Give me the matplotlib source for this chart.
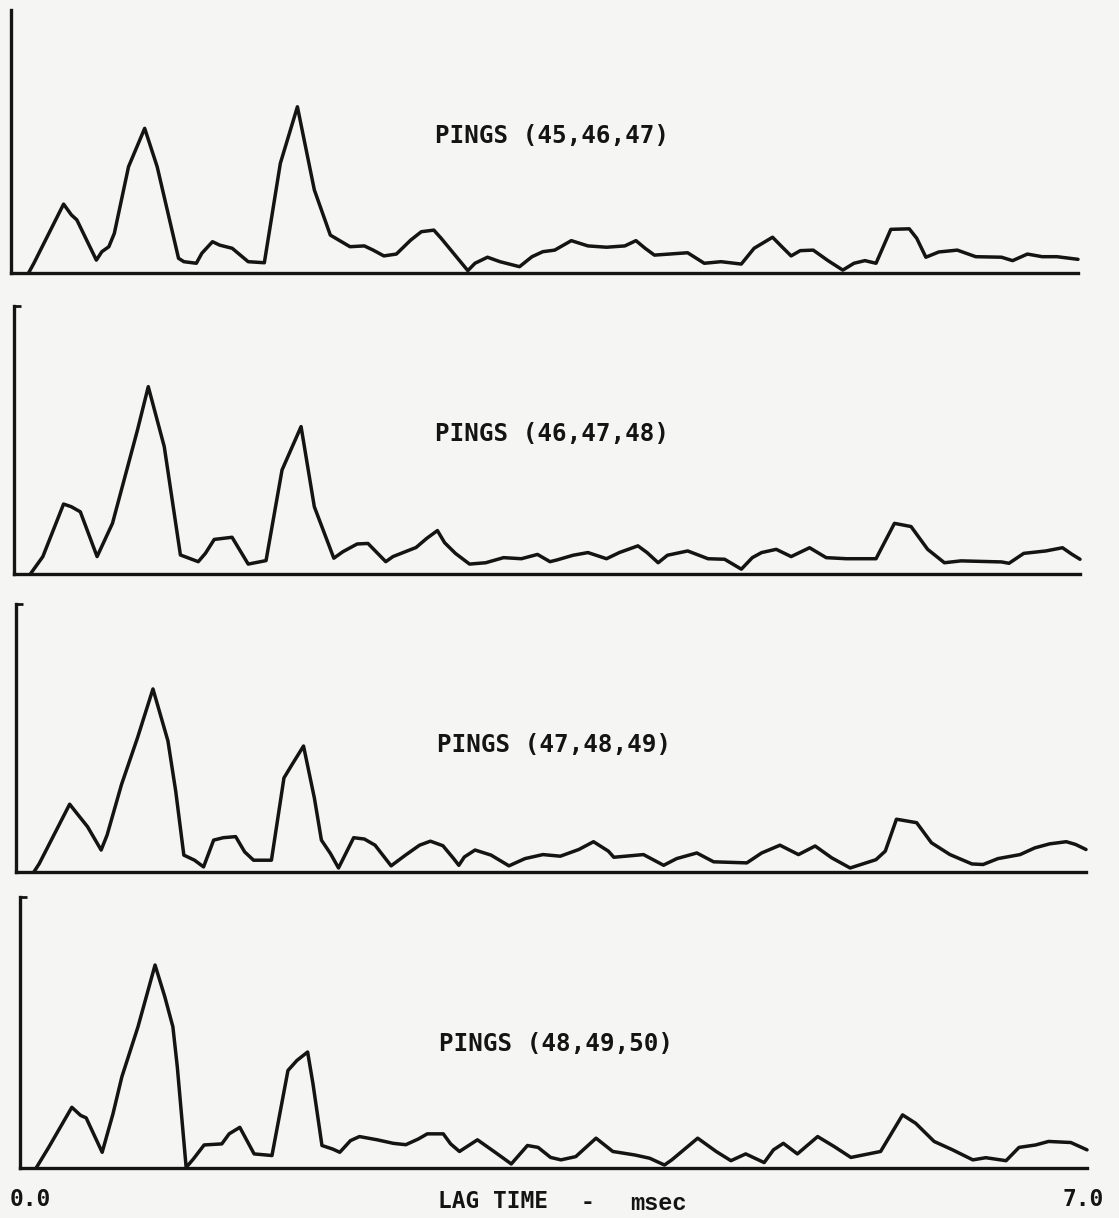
import matplotlib
matplotlib.use("Agg")
import matplotlib.pyplot as plt

# Lag time (msec) and correlation amplitude (axis top = 100) for each ping group
lag_45_47 = [0.115, 0.150, 0.345, 0.396, 0.432, 0.560, 0.596, 0.642, 0.678, 0.771,
             0.877, 0.959, 1.099, 1.134, 1.216, 1.252, 1.322, 1.369, 1.451, 1.556,
             1.662, 1.767, 1.879, 1.990, 2.095, 2.224, 2.318, 2.376, 2.446, 2.528,
             2.622, 2.692, 2.774, 2.822, 2.903, 2.997, 3.044, 3.126, 3.208, 3.336,
             3.418, 3.489, 3.567, 3.676, 3.785, 3.907, 4.027, 4.100, 4.160, 4.221,
             4.439, 4.548, 4.658, 4.791, 4.875, 4.996, 5.057, 5.118, 5.178, 5.263,
             5.360, 5.457, 5.530, 5.602, 5.675, 5.772, 5.893, 5.942, 6.002, 6.087,
             6.208, 6.329, 6.498, 6.571, 6.668, 6.765, 6.862, 7.000]
amp_45_47 = [0.0, 3.7, 26.2, 22.1, 20.2, 4.9, 8.1, 10.0, 15.1, 40.4,
             55.0, 40.4, 5.6, 4.3, 3.7, 7.5, 11.9, 10.6, 9.4, 4.3,
             3.9, 41.7, 63.2, 31.6, 14.4, 10.0, 10.3, 8.7, 6.5, 7.2,
             12.5, 15.7, 16.3, 13.2, 7.5, 0.9, 3.7, 6.0, 4.3, 2.4,
             6.2, 8.1, 8.7, 12.3, 10.3, 9.8, 10.3, 12.3, 9.4, 6.8,
             7.7, 3.7, 4.3, 3.4, 9.4, 13.6, 10.0, 6.5, 8.5, 8.7,
             4.7, 1.1, 3.7, 4.7, 3.7, 16.6, 16.8, 13.2, 6.0, 8.0,
             8.7, 6.2, 6.0, 4.7, 7.2, 6.2, 6.2, 5.2]

lag_46_48 = [0.110, 0.192, 0.328, 0.379, 0.438, 0.548, 0.649, 0.731, 0.813, 0.884,
             0.989, 1.095, 1.212, 1.259, 1.317, 1.434, 1.540, 1.657, 1.762, 1.887,
             1.974, 2.102, 2.161, 2.255, 2.326, 2.443, 2.490, 2.642, 2.712, 2.782,
             2.829, 2.900, 2.993, 3.099, 3.216, 3.333, 3.439, 3.521, 3.564, 3.673,
             3.770, 3.892, 3.976, 4.098, 4.158, 4.231, 4.292, 4.425, 4.558, 4.667,
             4.777, 4.849, 4.910, 5.006, 5.104, 5.225, 5.334, 5.467, 5.661, 5.782,
             5.891, 6.000, 6.110, 6.219, 6.485, 6.534, 6.631, 6.776, 6.885, 6.946,
             7.000]
amp_46_48 = [0.0, 6.5, 26.1, 25.1, 23.2, 6.5, 18.9, 36.3, 53.7, 69.9,
             47.5, 7.1, 4.6, 7.7, 12.9, 13.7, 3.7, 5.0, 38.8, 55.0,
             25.1, 5.9, 8.3, 11.2, 11.4, 4.6, 6.5, 9.9, 13.3, 16.2,
             11.7, 7.7, 3.7, 4.2, 6.1, 5.7, 7.3, 4.6, 5.2, 7.0,
             8.0, 5.7, 8.0, 10.5, 8.0, 4.2, 7.0, 8.6, 5.7, 5.5,
             1.8, 6.1, 8.0, 9.2, 6.5, 9.8, 6.1, 5.7, 5.7, 18.9,
             17.7, 9.2, 4.2, 4.9, 4.5, 4.0, 7.7, 8.6, 9.8, 7.4,
             5.5]

lag_47_49 = [0.117, 0.152, 0.351, 0.398, 0.468, 0.557, 0.596, 0.690, 0.795, 0.896,
             0.994, 1.045, 1.098, 1.168, 1.227, 1.293, 1.356, 1.437, 1.496, 1.554,
             1.671, 1.753, 1.806, 1.881, 1.952, 1.998, 2.057, 2.110, 2.209, 2.279,
             2.349, 2.454, 2.548, 2.640, 2.711, 2.793, 2.863, 2.897, 2.933, 3.003,
             3.108, 3.225, 3.330, 3.447, 3.561, 3.682, 3.778, 3.875, 3.911, 4.105,
             4.237, 4.322, 4.454, 4.564, 4.781, 4.878, 4.998, 5.119, 5.228, 5.336,
             5.457, 5.626, 5.687, 5.760, 5.892, 5.989, 6.110, 6.254, 6.327, 6.424,
             6.569, 6.665, 6.762, 6.871, 6.931, 7.000]
amp_47_49 = [0.0, 3.1, 25.3, 21.9, 16.9, 8.2, 13.8, 32.6, 50.1, 68.3,
             48.9, 30.1, 6.3, 4.4, 1.9, 11.9, 12.8, 13.2, 7.5, 4.4,
             4.4, 35.1, 40.1, 47.0, 27.6, 11.9, 6.9, 1.5, 12.8, 12.3,
             10.0, 2.3, 6.3, 10.0, 11.5, 9.8, 5.0, 2.5, 5.6, 8.2,
             6.3, 2.3, 5.0, 6.5, 5.9, 8.4, 11.3, 7.8, 5.5, 6.5,
             2.5, 5.0, 7.1, 3.8, 3.4, 7.1, 10.0, 6.5, 9.7, 5.3,
             1.5, 4.6, 7.8, 19.7, 18.4, 10.9, 6.5, 3.0, 2.8, 5.0,
             6.5, 9.0, 10.5, 11.3, 10.3, 8.4]

lag_48_50 = [0.106, 0.188, 0.340, 0.398, 0.434, 0.539, 0.610, 0.668, 0.774, 0.886,
             0.950, 1.003, 1.032, 1.090, 1.137, 1.208, 1.324, 1.372, 1.442, 1.536,
             1.653, 1.758, 1.817, 1.887, 1.922, 1.981, 2.051, 2.098, 2.168, 2.227,
             2.344, 2.449, 2.531, 2.613, 2.672, 2.777, 2.825, 2.883, 3.001, 3.117,
             3.223, 3.329, 3.399, 3.481, 3.549, 3.646, 3.779, 3.889, 4.034, 4.131,
             4.228, 4.276, 4.446, 4.567, 4.664, 4.761, 4.882, 4.943, 5.008, 5.100,
             5.233, 5.342, 5.451, 5.646, 5.790, 5.876, 5.997, 6.118, 6.251, 6.336,
             6.469, 6.554, 6.663, 6.748, 6.894, 7.000]
amp_48_50 = [0.0, 7.6, 22.4, 19.4, 18.5, 5.8, 20.0, 33.6, 52.1, 74.9,
             63.2, 52.1, 37.3, 0.2, 3.3, 8.5, 8.9, 12.6, 15.0, 5.2,
             4.6, 36.0, 39.7, 42.8, 31.1, 8.3, 7.0, 5.8, 10.1, 11.6,
             10.4, 9.1, 8.6, 10.7, 12.6, 12.6, 8.9, 6.1, 10.4, 5.8,
             1.5, 8.3, 7.6, 3.9, 3.0, 4.2, 11.0, 6.1, 4.8, 3.6,
             1.1, 3.0, 11.0, 6.1, 2.7, 5.2, 2.0, 6.7, 9.1, 5.2,
             11.6, 7.9, 3.9, 6.1, 19.6, 16.5, 9.8, 6.7, 3.0, 3.8,
             2.7, 7.6, 8.5, 9.8, 9.4, 6.7]

panel_labels = ["PINGS (45,46,47)", "PINGS (46,47,48)",
                "PINGS (47,48,49)", "PINGS (48,49,50)"]
lags = [lag_45_47, lag_46_48, lag_47_49, lag_48_50]
amps = [amp_45_47, amp_46_48, amp_47_49, amp_48_50]

x_start_label = "0.0"
x_end_label = "7.0"

W, H = 1119, 1218
paper = "#f5f5f3"
ink = "#141414"

fig = plt.figure(figsize=(W / 100, H / 100), dpi=100, facecolor=paper)

# panel frames in pixels: left, right, top, baseline
frames = [(11, 1078, 10, 273),
          (13.6, 1080, 306, 574),
          (16, 1086, 604, 872),
          (20, 1087, 897, 1168)]
label_pos = [(435, 136), (435, 434), (437, 745), (439, 1044)]

mono = "DejaVu Sans Mono"

for i, ((l, r, t, b), lag, amp, lab, (lx, ly)) in enumerate(
        zip(frames, lags, amps, panel_labels, label_pos)):
    ax = fig.add_axes([l / W, 1 - b / H, (r - l) / W, (b - t) / H])
    ax.set_facecolor("none")
    ax.set_xlim(0, 7.0)
    ax.set_ylim(0, 100)
    ax.plot(lag, amp, color=ink, lw=2.5, solid_joinstyle="round",
            solid_capstyle="round", clip_on=False, zorder=3)
    for side in ("top", "right"):
        ax.spines[side].set_visible(False)
    for side in ("left", "bottom"):
        ax.spines[side].set_linewidth(2.4)
        ax.spines[side].set_color(ink)
    ax.set_xticks([])
    if i == 0:
        ax.set_yticks([])
    else:
        ax.set_yticks([100])
        ax.tick_params(axis="y", direction="in", length=5, width=2.0,
                       color=ink, labelleft=False)
    fig.text(lx / W, 1 - ly / H, lab, ha="left", va="center",
             fontsize=17.5, family=mono, weight="bold", color=ink)

# lag time axis annotation under the bottom panel
fig.text(10 / W, 1 - 1200 / H, x_start_label, ha="left", va="center",
         fontsize=16.5, family=mono, weight="bold", color=ink)
fig.text(1063 / W, 1 - 1199 / H, x_end_label, ha="left", va="center",
         fontsize=16.5, family=mono, weight="bold", color=ink)
fig.text(438 / W, 1 - 1202 / H, "LAG TIME", ha="left", va="center",
         fontsize=16.5, family=mono, weight="bold", color=ink)
fig.text(588 / W, 1 - 1202 / H, "-", ha="center", va="center",
         fontsize=16.5, family=mono, weight="bold", color=ink)
fig.text(630 / W, 1 - 1203 / H, "msec", ha="left", va="center",
         fontsize=17, family="Liberation Mono", weight="bold", color=ink)

fig.savefig("out.png", dpi=100, facecolor=paper)
